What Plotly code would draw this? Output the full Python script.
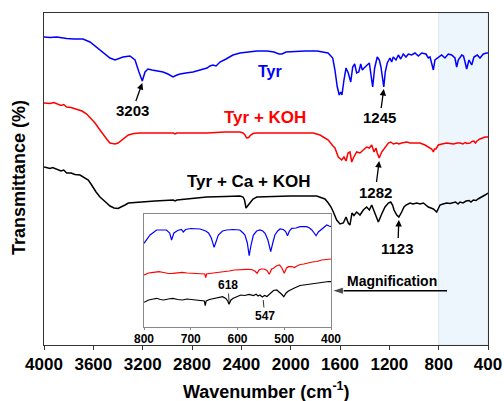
import plotly.graph_objects as go

# ---------------- main spectra (wavenumber cm-1, transmittance a.u.) ----------------
tyr_wn = [4000, 3951, 3897, 3850, 3816, 3760, 3684, 3627, 3546, 3465, 3424, 3359, 3303, 3262, 3230,
          3203, 3181, 3157, 3124, 3084, 3035, 2995, 2954, 2922, 2897, 2849, 2792, 2735, 2678, 2654,
          2630, 2605, 2573, 2524, 2468, 2411, 2354, 2273, 2192, 2135, 2095, 2070, 2038, 1989, 1884,
          1786, 1730, 1697, 1659, 1641, 1622, 1606, 1594, 1584, 1568, 1551, 1533, 1513, 1497, 1481,
          1465, 1448, 1432, 1419, 1405, 1384, 1362, 1351, 1335, 1319, 1298, 1281, 1268, 1245, 1233,
          1217, 1195, 1181, 1168, 1146, 1127, 1108, 1087, 1065, 1046, 1019, 992, 965, 938, 903,
          884, 870, 858, 843, 830, 803, 776, 749, 722, 694, 668, 654, 641, 613, 599, 586, 573,
          554, 532, 514, 487, 465, 438, 411, 400]
tyr_t = [308, 307.5, 308, 307, 306.5, 306, 306, 303, 295, 287, 285, 288, 289, 285, 273,
         264, 273, 276, 275, 274, 273, 271, 268, 270, 271, 272, 273, 275, 277, 279,
         280, 279, 283, 286, 290, 292, 293, 294, 294, 293, 291, 291, 293, 293.5, 294,
         294, 293, 292, 287, 275, 258, 250, 253, 250, 265, 277, 272, 263, 278, 281,
         272, 273, 281, 275, 277, 280, 282, 272, 258, 277, 288, 285, 278, 258, 273,
         282, 287, 283, 288, 285, 290, 286, 291, 288, 291, 290, 292, 289, 292, 291,
         287, 288, 283, 275, 285, 288, 290, 287, 291, 290, 287, 278, 285, 290, 289, 283, 276,
         285, 280, 288, 290, 287, 291, 292, 292]

koh_wn = [4000, 3951, 3920, 3897, 3862, 3840, 3816, 3781, 3735, 3692, 3654, 3619, 3586, 3546, 3519,
          3489, 3465, 3424, 3400, 3370, 3343, 3316, 3270, 3222, 3100, 2952, 2938, 2922, 2681, 2532,
          2411, 2386, 2370, 2358, 2341, 2324, 2305, 2275, 2005, 1816, 1762, 1720, 1695, 1657, 1641,
          1614, 1606, 1586, 1568, 1551, 1535, 1519, 1505, 1492, 1465, 1438, 1411, 1384, 1362, 1343,
          1324, 1308, 1298, 1282, 1262, 1235, 1208, 1189, 1168, 1140, 1122, 1100, 1059, 1032, 1006,
          976, 951, 911, 884, 857, 843, 834, 822, 803, 773, 735, 708, 681, 651, 627, 603, 586,
          570, 546, 530, 514, 502, 489, 465, 441, 424, 400]
koh_t = [242, 241.5, 242.5, 241, 239.5, 240.5, 238, 237.5, 236, 234, 231, 226, 222, 215, 210,
         205.5, 202, 201, 202, 205, 208, 210, 211.5, 212, 212, 212, 211, 212, 212, 213,
         213, 212, 210, 207, 207.5, 210, 211.5, 212, 212, 212, 210, 207, 205, 199, 197,
         188, 187, 185, 188, 184, 192, 193, 183, 187, 193, 192, 195, 198, 197, 200,
         193, 197, 192, 187, 193, 198, 202, 203, 201, 202, 201, 202, 203, 202, 202,
         201.5, 202, 200, 198, 196, 193, 196, 196, 200, 201, 202, 201.5, 201, 202, 202, 201, 202.5,
         201.5, 202, 203.5, 204, 202, 204, 206, 207, 208, 208]

ca_wn = [4000, 3951, 3930, 3897, 3862, 3840, 3816, 3781, 3749, 3708, 3676, 3641, 3619, 3600, 3578,
         3546, 3522, 3492, 3465, 3432, 3400, 3370, 3343, 3316, 3270, 3222, 3100, 2952, 2938, 2922,
         2816, 2681, 2532, 2411, 2386, 2374, 2362, 2350, 2337, 2324, 2305, 2275, 2168, 2005, 1789,
         1762, 1722, 1695, 1673, 1654, 1627, 1600, 1573, 1551, 1533, 1519, 1503, 1487, 1465, 1438,
         1411, 1384, 1362, 1343, 1316, 1289, 1262, 1235, 1208, 1189, 1174, 1162, 1140, 1123, 1100,
         1081, 1065, 1032, 1008, 978, 951, 924, 884, 843, 816, 801, 789, 765, 735, 708, 681,
         663, 643, 627, 603, 578, 554, 538, 519, 497, 481, 465, 444, 424, 400]
ca_t = [178, 176.5, 177.5, 176, 174, 175, 172, 172, 170.5, 170, 168, 165, 161, 157, 153,
        148, 145, 142, 139, 137, 136.5, 138, 140, 142, 142.5, 143, 144, 145, 144, 145,
        146, 148, 148.5, 149, 148, 145, 137, 138.5, 141, 143, 146, 148, 148.5, 149, 149,
        148, 146, 142, 138, 133, 125, 121, 122, 128, 122, 120, 132, 129.5, 133, 130,
        135, 138, 135, 140, 132, 123, 131, 138, 142, 143, 140, 135, 130, 128, 133,
        138, 140, 142, 141, 142, 141, 142, 138, 136, 133, 137, 140, 141, 142, 141.5, 142,
        143, 141, 143, 142, 144, 144.5, 143, 145, 144.5, 146, 147, 148.5, 150, 152]

# ---------------- magnified 800-400 cm-1 region (inset) ----------------
ins_tyr_wn = [800, 787, 773, 752, 745, 741, 736, 728, 720, 716, 711, 700, 680, 668, 662, 656, 650,
              645, 641, 632, 623, 610, 595, 588, 584, 579, 575, 571, 566, 559, 552, 546, 541, 535,
              529, 524, 520, 514, 509, 502, 497, 493, 489, 484, 475, 466, 459, 452, 446, 441, 436,
              432, 427, 420, 414, 409, 404, 400]
ins_tyr_t = [83.7, 92, 97, 97, 94, 87, 94, 96.5, 97.5, 95, 97.5, 98.5, 98, 96, 94, 89, 79.7,
             87, 92, 96, 97, 97.5, 97, 94, 92, 84, 71.3, 82, 92, 96, 97, 96, 93.7, 87,
             75.3, 85, 92, 96, 98, 97.5, 95.5, 91.3, 96, 98.7, 99, 100.3, 100, 100.3, 99, 97, 94,
             91.3, 95, 98, 100, 102, 101, 100.3]

ins_koh_wn = [800, 790, 780, 768, 758, 748, 738, 728, 718, 708, 698, 688, 678, 670, 668, 666, 660,
              650, 640, 629, 618, 606, 593, 580, 570, 563, 558, 554, 549, 543, 537, 532, 527, 523,
              517, 510, 505, 500, 495, 491, 484, 478, 473, 466, 458, 450, 440, 430, 420, 410, 400]
ins_koh_t = [52, 54, 54.7, 55.3, 54.5, 53.5, 53.7, 54.5, 54.7, 54, 53.7, 53.5, 53, 53, 49.3, 53, 53.5,
             54, 55, 55.3, 56, 57, 57.7, 57.7, 57.5, 56, 53.7, 57, 58, 58, 56.5, 52.7, 58, 58.7,
             61, 62, 59, 53.7, 59, 60.3, 60.5, 59.5, 61, 62.5, 63, 64, 65, 65.5, 67, 67.5, 68]

ins_ca_wn = [800, 790, 780, 773, 765, 758, 748, 738, 728, 718, 708, 698, 688, 678, 671, 669, 667,
             660, 650, 640, 632, 625, 621, 618, 614, 609, 600, 593, 585, 575, 566, 560, 556, 552,
             547, 542, 537, 530, 523, 516, 510, 505, 501, 496, 491, 484, 476, 466, 458, 450, 440,
             432, 423, 414, 405, 400]
ins_ca_t = [24.7, 27, 28, 28.7, 27.5, 27, 28, 28.7, 27.5, 27, 28, 27.5, 26.5, 26, 26, 21.3, 26,
            27.5, 28.7, 30, 30.3, 28.5, 26, 22.7, 27, 28.7, 30.3, 32, 31.5, 32.7, 31.5, 32.7, 31, 32,
            30, 31.5, 30.5, 34, 36.5, 37, 35, 32.5, 30.3, 34, 36, 38, 39.5, 41.5, 42, 43, 43.5,
            43.5, 44, 45, 45.5, 45.3]

main_ticks = [4000, 3600, 3200, 2800, 2400, 2000, 1600, 1200, 800, 400]
inset_ticks = [800, 700, 600, 500, 400]

BLUE, RED, BLACK = "#0000FF", "#FF0000", "#000000"
FONT = "Liberation Sans, Arial, sans-serif"

fig = go.Figure()
for wn, t, c in [(tyr_wn, tyr_t, BLUE), (koh_wn, koh_t, RED), (ca_wn, ca_t, BLACK)]:
    fig.add_trace(go.Scatter(x=wn, y=t, mode="lines", line=dict(color=c, width=1.5),
                             xaxis="x", yaxis="y", showlegend=False, hoverinfo="skip"))
for wn, t, c in [(ins_tyr_wn, ins_tyr_t, BLUE), (ins_koh_wn, ins_koh_t, RED), (ins_ca_wn, ins_ca_t, BLACK)]:
    fig.add_trace(go.Scatter(x=wn, y=t, mode="lines", line=dict(color=c, width=1.2),
                             xaxis="x2", yaxis="y2", showlegend=False, hoverinfo="skip"))

# "Magnification" pointer arrow (from the shaded region toward the inset)
fig.add_trace(go.Scatter(x=[732, 1665], y=[54.3, 54.3], mode="lines+markers",
                         line=dict(color="black", width=1.5),
                         marker=dict(symbol="arrow", size=[0, 12], angleref="previous", color="black"),
                         xaxis="x", yaxis="y", showlegend=False, hoverinfo="skip"))

W, H = 504, 401
px = lambda a, b: [a / W, b / W]
py = lambda top, bot: [1 - bot / H, 1 - top / H]

fig.update_layout(
    width=W, height=H, autosize=False,
    margin=dict(l=0, r=0, t=0, b=0),
    paper_bgcolor="white", plot_bgcolor="white",
    font=dict(family=FONT, color="black"),
    xaxis=dict(domain=px(44, 488), range=[4000, 400], tickvals=main_ticks,
               ticktext=[f"<b>{v}</b>" for v in main_ticks], tickfont=dict(size=17),
               ticks="outside", ticklen=4, tickcolor="#333", showline=True, linecolor="#333",
               linewidth=1, mirror=True, showgrid=False, zeroline=False, anchor="y",
               ticklabelstandoff=0, automargin=False),
    yaxis=dict(domain=py(13, 345), range=[0, 332], showticklabels=False, ticks="",
               showline=True, linecolor="#333", linewidth=1, mirror=True, showgrid=False,
               zeroline=False, anchor="x", automargin=False),
    xaxis2=dict(domain=px(144, 331), range=[800, 400], tickvals=inset_ticks,
                ticktext=[f"<b>{v}</b>" for v in inset_ticks], tickfont=dict(size=12),
                ticks="outside", ticklen=2, tickcolor="#888", showline=True, linecolor="#888",
                linewidth=1, mirror=True, showgrid=False, zeroline=False, anchor="y2",
                ticklabelstandoff=-1, automargin=False),
    yaxis2=dict(domain=py(214, 327), range=[0, 113], showticklabels=False, ticks="",
                showline=True, linecolor="#888", linewidth=1, mirror=True, showgrid=False,
                zeroline=False, anchor="x2", automargin=False),
)

# axis titles
fig.add_annotation(x=266 / W, y=1 - 390 / H, xref="paper", yref="paper", showarrow=False,
                   xanchor="center", yanchor="middle",
                   text="<b>Wavenumber (cm<sup>-1</sup>)</b>", font=dict(size=18, family=FONT))
fig.add_annotation(x=19 / W, y=1 - 178 / H, xref="paper", yref="paper", showarrow=False,
                   xanchor="center", yanchor="middle",
                   textangle=-90, text="<b>Transmittance (%)</b>", font=dict(size=18, family=FONT))

fig.add_shape(type="rect", xref="x", yref="y domain", x0=800, x1=400, y0=0, y1=1,
              fillcolor="#EEF6FD", line=dict(color="#DCE6EE", width=1), layer="below")

def label(text, x, y, size, color="black", xr="x", yr="y"):
    fig.add_annotation(x=x, y=y, xref=xr, yref=yr, text=f"<b>{text}</b>", showarrow=False,
                       font=dict(size=size, color=color, family=FONT))

def tagged(text, x, y, ax, ay, size, head=2, w=1.3, xr="x", yr="y"):
    # label placed at the arrow tail, arrow pointing to the band at (x, y)
    fig.add_annotation(x=x, y=y, xref=xr, yref=yr, ax=ax, ay=ay, text=f"<b>{text}</b>",
                       showarrow=True, arrowhead=head, arrowsize=1, arrowwidth=w,
                       arrowcolor="black", font=dict(size=size, color="black", family=FONT))

label("Tyr", 2168, 273, 16, BLUE)
label("Tyr + KOH", 2211, 227, 17, RED)
label("Tyr + Ca + KOH", 2338, 164, 17)
label("Magnification", 1181, 64, 14)

tagged("3203", 3203, 262, -10, 28, 15)
tagged("1245", 1245, 256, -4, 29, 15)
tagged("1282", 1282, 184, -4, 31, 15)
tagged("1123", 1123, 125, -1, 28, 15)

tagged("618", 618, 24, -1, -18, 12, head=0, w=0.8, xr="x2", yr="y2")
tagged("547", 545, 27, 1.5, 16, 12, head=0, w=0.8, xr="x2", yr="y2")

fig.write_html("out.html")
